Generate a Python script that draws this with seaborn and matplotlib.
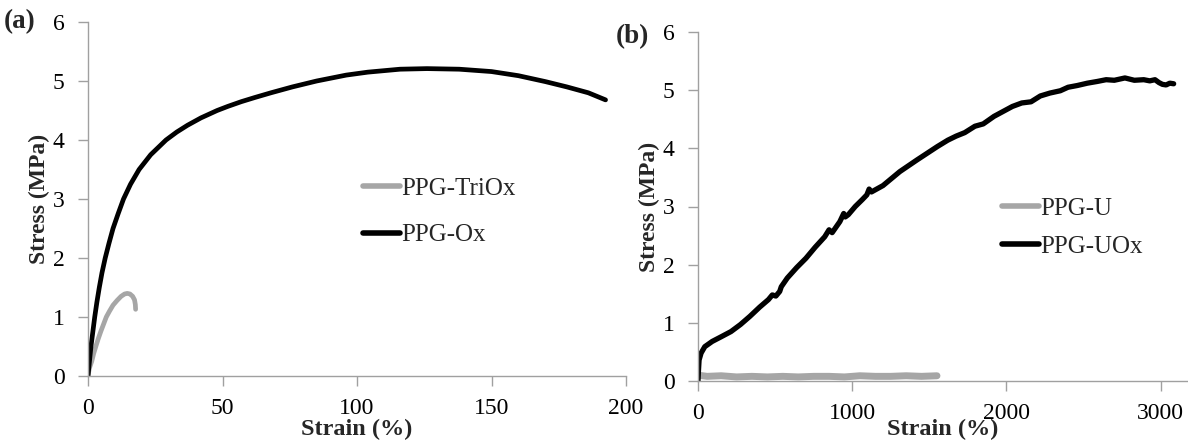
import matplotlib
matplotlib.use("Agg")
import matplotlib.pyplot as plt
import seaborn as sns
import pandas as pd

# ---- data: panel (a) ----
triox_strain = [0, 0.5, 1.4, 2.1, 2.9, 3.8, 4.8, 5.8, 6.8, 8.0, 9.3, 10.8, 12.3, 13.6, 14.6, 15.6, 16.6, 17.3, 17.6, 17.7]
triox_stress = [0, 0.13, 0.25, 0.38, 0.50, 0.63, 0.76, 0.88, 1.00, 1.10, 1.20, 1.28, 1.35, 1.39, 1.40, 1.39, 1.35, 1.29, 1.21, 1.13]

ox_strain = [0, 0.5, 1.1, 1.8, 2.5, 3.3, 4.2, 5.2, 6.4, 7.8, 9.3, 11.2, 13.2, 15.8, 19.0, 23.3, 29.0, 33.0, 37.0, 42.0,
             48.0, 52.0, 57.0, 62.0, 68.0, 76.0, 85.0, 96.0, 104.0, 116.0, 126.0, 138.0, 150.0, 160.0, 170.0, 178.0, 186.0, 192.4]
ox_stress = [0, 0.23, 0.50, 0.75, 1.00, 1.25, 1.50, 1.75, 2.00, 2.25, 2.50, 2.75, 3.00, 3.25, 3.50, 3.75, 4.00, 4.135, 4.25, 4.375,
             4.50, 4.57, 4.65, 4.72, 4.80, 4.90, 5.00, 5.10, 5.15, 5.20, 5.21, 5.20, 5.16, 5.09, 4.99, 4.90, 4.80, 4.68]

# ---- data: panel (b) ----
u_strain = [0, 60, 150, 250, 350, 450, 550, 650, 750, 850, 950, 1050, 1150, 1250, 1350, 1450, 1550]
u_stress = [0.10, 0.08, 0.09, 0.07, 0.08, 0.07, 0.08, 0.07, 0.08, 0.08, 0.07, 0.09, 0.08, 0.08, 0.09, 0.08, 0.09]

uox_strain = [0, 3, 7, 20, 44, 92, 150, 214, 275, 336, 400, 457, 482, 505, 530, 540, 579, 640, 700, 760, 822, 850, 870,
              920, 945, 955, 975, 1020, 1066, 1095, 1110, 1125, 1200, 1309, 1420, 1552, 1620, 1674, 1730, 1796, 1850,
              1920, 2039, 2100, 2160, 2220, 2282, 2350, 2400, 2460, 2525, 2590, 2647, 2700, 2769, 2830, 2891, 2930,
              2964, 2990, 3012, 3036, 3060, 3085]
uox_stress = [0, 0.18, 0.36, 0.48, 0.59, 0.68, 0.76, 0.85, 0.97, 1.11, 1.27, 1.40, 1.48, 1.46, 1.54, 1.62, 1.77, 1.95, 2.11, 2.30, 2.48, 2.60, 2.55,
              2.74, 2.88, 2.82, 2.86, 3.00, 3.12, 3.20, 3.30, 3.25, 3.36, 3.60, 3.80, 4.03, 4.14, 4.21, 4.27, 4.38, 4.42,
              4.55, 4.72, 4.78, 4.80, 4.90, 4.95, 4.99, 5.05, 5.08, 5.12, 5.15, 5.18, 5.17, 5.21, 5.17, 5.18, 5.16,
              5.18, 5.13, 5.10, 5.09, 5.12, 5.11]

labels_a = ["PPG-TriOx", "PPG-Ox"]
labels_b = ["PPG-U", "PPG-UOx"]
colors = {"PPG-TriOx": "#a6a6a6", "PPG-Ox": "#000000", "PPG-U": "#a6a6a6", "PPG-UOx": "#000000"}
widths = {"PPG-TriOx": 3.4, "PPG-Ox": 3.4, "PPG-U": 5.0, "PPG-UOx": 3.8}

df_a = pd.concat([
    pd.DataFrame({"strain": triox_strain, "stress": triox_stress, "sample": labels_a[0]}),
    pd.DataFrame({"strain": ox_strain, "stress": ox_stress, "sample": labels_a[1]}),
], ignore_index=True)
df_b = pd.concat([
    pd.DataFrame({"strain": u_strain, "stress": u_stress, "sample": labels_b[0]}),
    pd.DataFrame({"strain": uox_strain, "stress": uox_stress, "sample": labels_b[1]}),
], ignore_index=True)

sns.set_style("ticks")
plt.rcParams["font.family"] = ["Liberation Serif", "DejaVu Serif"]

fig = plt.figure(figsize=(11.88, 4.41), dpi=100)
ax_a = fig.add_axes([88 / 1188, 1 - 376 / 441, 538 / 1188, 354 / 441])
ax_b = fig.add_axes([698 / 1188, 1 - 381 / 441, 490 / 1188, 349 / 441])

axis_gray = "#a0a0a0"


def style_axes(ax, xlim, xticks, xlabelpad):
    ax.set_xlim(*xlim)
    ax.set_ylim(0, 6)
    ax.set_xticks(xticks)
    ax.set_yticks(range(0, 7))
    for side in ("top", "right"):
        ax.spines[side].set_visible(False)
    for side in ("left", "bottom"):
        ax.spines[side].set_color(axis_gray)
        ax.spines[side].set_linewidth(1.0)
    ax.tick_params(axis="both", direction="out", length=7, width=1.0, color=axis_gray,
                   labelcolor="black", labelsize=17)
    ax.tick_params(axis="y", pad=10)
    ax.tick_params(axis="x", pad=9)
    ax.set_xlabel("Strain (%)", fontsize=17.5, fontweight="bold", labelpad=xlabelpad)
    ax.set_ylabel("Stress (MPa)", fontsize=17, fontweight="bold", labelpad=2)


for ax, df, order in ((ax_a, df_a, labels_a), (ax_b, df_b, labels_b)):
    sns.lineplot(data=df, x="strain", y="stress", hue="sample", hue_order=order,
                 palette=colors, sort=False, estimator=None, linewidth=3.4, ax=ax)
    for ln, name in zip(ax.get_lines(), order):
        ln.set_linewidth(widths[name])

style_axes(ax_a, (0, 200), [0, 50, 100, 150, 200], 0)
style_axes(ax_b, (0, 3178), [0, 1000, 2000, 3000], -3.8)

ax_a.legend(loc="center left", bbox_to_anchor=(0.511, 0.463), frameon=False, fontsize=18,
            handlelength=1.5, handletextpad=0.05, labelspacing=0.95, borderpad=0, borderaxespad=0)
ax_b.legend(loc="center left", bbox_to_anchor=(0.620, 0.44), frameon=False, fontsize=18,
            handlelength=1.5, handletextpad=0.05, labelspacing=0.62, borderpad=0, borderaxespad=0)
for leg in (ax_a.get_legend(), ax_b.get_legend()):
    for h in leg.legend_handles:
        h.set_linewidth(4.0)

fig.text(20 / 1188, 1 - 22 / 441, "(a)", fontsize=19.5, fontweight="bold", ha="center", va="center")
fig.text(632 / 1188, 1 - 37 / 441, "(b)", fontsize=19.5, fontweight="bold", ha="center", va="center")

fig.savefig("out.png", dpi=100)
